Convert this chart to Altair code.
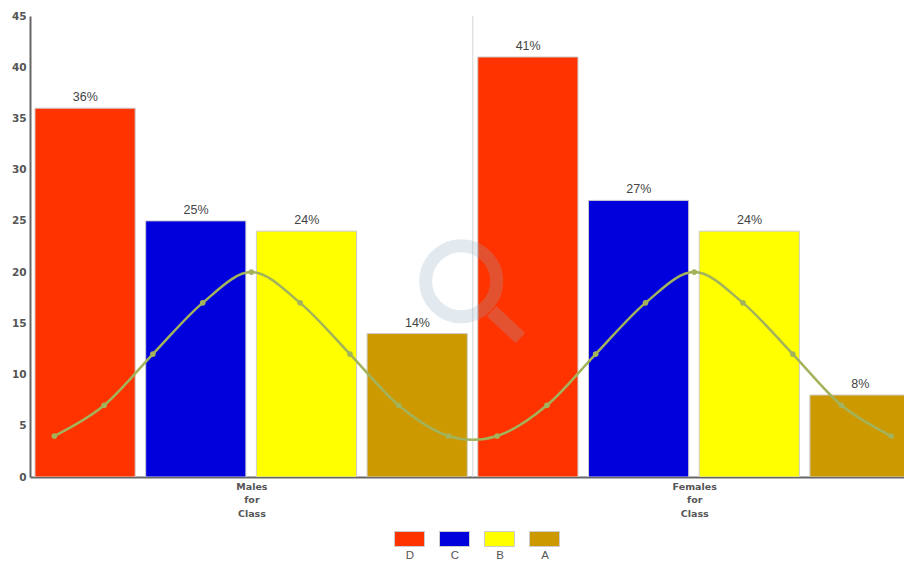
import altair as alt
import pandas as pd

# Bar series: grade shares per group
grades = ["D", "C", "B", "A"]
grade_colors = ["#ff3300", "#0000dd", "#ffff00", "#cc9900"]
male_values = [36, 25, 24, 14]
female_values = [41, 27, 24, 8]
bar_slots = [0, 1, 2, 3, 4, 5, 6, 7]

# Overlaid curve
curve_x = [0.22, 0.67, 1.11, 1.56, 2.0, 2.44, 2.89, 3.33, 3.78,
           4.22, 4.67, 5.11, 5.56, 6.0, 6.44, 6.89, 7.33, 7.78]
curve_y = [4, 7, 12, 17, 20, 17, 12, 7, 4, 4, 7, 12, 17, 20, 17, 12, 7, 4]

# Group labels and y ticks
group_ticks = [2, 6]
y_ticks = [0, 5, 10, 15, 20, 25, 30, 35, 40, 45]

# Magnifier watermark, in axis units
lens_x, lens_y = [3.895], [19.1]
handle_x, handle_y, handle_x2, handle_y2 = [4.17], [16.2], [4.43], [13.55]

X_DOMAIN = [0, 7.895]
Y_DOMAIN = [0, 45]
TEXT = "#555555"
BOLD = "DejaVu Sans"

bars = pd.DataFrame({
    "slot": bar_slots,
    "grade": grades * 2,
    "value": male_values + female_values,
})
bars["label"] = bars["value"].astype(str) + "%"

x_scale = alt.Scale(domain=X_DOMAIN, nice=False, zero=False)
y_scale = alt.Scale(domain=Y_DOMAIN, nice=False)

bar_layer = (
    alt.Chart(bars)
    .transform_calculate(start="datum.slot + 0.045", end="datum.slot + 0.95", base="0")
    .mark_bar(stroke="#cccccc", strokeWidth=1, clip=True)
    .encode(
        x=alt.X(
            "start:Q",
            scale=x_scale,
            title=None,
            axis=alt.Axis(
                values=group_ticks,
                labelExpr="datum.value == 2 ? ['Males', 'for', 'Class'] : ['Females', 'for', 'Class']",
                labelFont=BOLD,
                labelFontWeight="bold",
                labelFontSize=9.5,
                labelColor=TEXT,
                labelLineHeight=13.5,
                labelPadding=4,
                labelFlush=False,
                labelOverlap=False,
                tickSize=0,
                grid=False,
                domainColor="#666666",
                domainWidth=2,
            ),
        ),
        x2="end:Q",
        y=alt.Y(
            "value:Q",
            scale=y_scale,
            title=None,
            axis=alt.Axis(
                values=y_ticks,
                labelFont=BOLD,
                labelFontWeight="bold",
                labelFontSize=10.5,
                labelColor=TEXT,
                labelPadding=4,
                tickSize=0,
                grid=False,
                domainColor="#666666",
                domainWidth=2,
            ),
        ),
        y2="base:Q",
        color=alt.Color(
            "grade:N",
            scale=alt.Scale(domain=grades, range=grade_colors),
            legend=alt.Legend(
                orient="none",
                legendX=359,
                legendY=529,
                direction="horizontal",
                title=None,
                symbolType="M-0.5,-2.4H2.5V-0.9H-0.5Z",
                symbolSize=400,
                symbolStrokeWidth=1,
                symbolStrokeColor="#cccccc",
                labelFont="Liberation Sans",
                labelFontSize=11.5,
                labelColor=TEXT,
                labelAlign="center",
                labelOffset=0,
                columns=4,
                gridAlign="all",
                columnPadding=7,
            ),
        ),
    )
)

separator = (
    alt.Chart(pd.DataFrame({"x": [4]}))
    .mark_rule(color="#d5d5d5", strokeWidth=1)
    .encode(x=alt.X("x:Q", scale=x_scale))
)

value_labels = (
    alt.Chart(bars)
    .transform_calculate(center="datum.slot + 0.5")
    .mark_text(baseline="bottom", dy=-4, font="Liberation Sans", fontSize=12.5, color="#444444", clip=True)
    .encode(
        x=alt.X("center:Q", scale=x_scale),
        y=alt.Y("value:Q", scale=y_scale),
        text="label:N",
    )
)

lens = (
    alt.Chart(pd.DataFrame({"x": lens_x, "y": lens_y}))
    .mark_point(shape="circle", size=5041, filled=False, stroke="#8fafc3", strokeWidth=13, opacity=0.25)
    .encode(x=alt.X("x:Q", scale=x_scale), y=alt.Y("y:Q", scale=y_scale))
)

handle = (
    alt.Chart(pd.DataFrame({"x": handle_x, "y": handle_y, "x2": handle_x2, "y2": handle_y2}))
    .mark_rule(stroke="#8fafc3", strokeWidth=14, opacity=0.25)
    .encode(
        x=alt.X("x:Q", scale=x_scale),
        y=alt.Y("y:Q", scale=y_scale),
        x2="x2:Q",
        y2="y2:Q",
    )
)

curve = pd.DataFrame({"x": curve_x, "y": curve_y})
curve_line = (
    alt.Chart(curve)
    .mark_line(interpolate="cardinal", color="#a2b35c", strokeWidth=2.5)
    .encode(x=alt.X("x:Q", scale=x_scale), y=alt.Y("y:Q", scale=y_scale))
)
curve_points = (
    alt.Chart(curve)
    .mark_circle(size=32, color="#a2b35c", opacity=1)
    .encode(x=alt.X("x:Q", scale=x_scale), y=alt.Y("y:Q", scale=y_scale))
)

chart = (
    alt.layer(separator, bar_layer, value_labels, lens, handle, curve_line, curve_points)
    .properties(
        width=874,
        height=461,
        background="#ffffff",
        autosize=alt.AutoSizeParams(type="none"),
        padding={"left": 30, "top": 16, "right": 0, "bottom": 84},
    )
    .configure_view(strokeWidth=0)
)

chart.save("out.html", embed_options={"renderer": "svg", "actions": False})
